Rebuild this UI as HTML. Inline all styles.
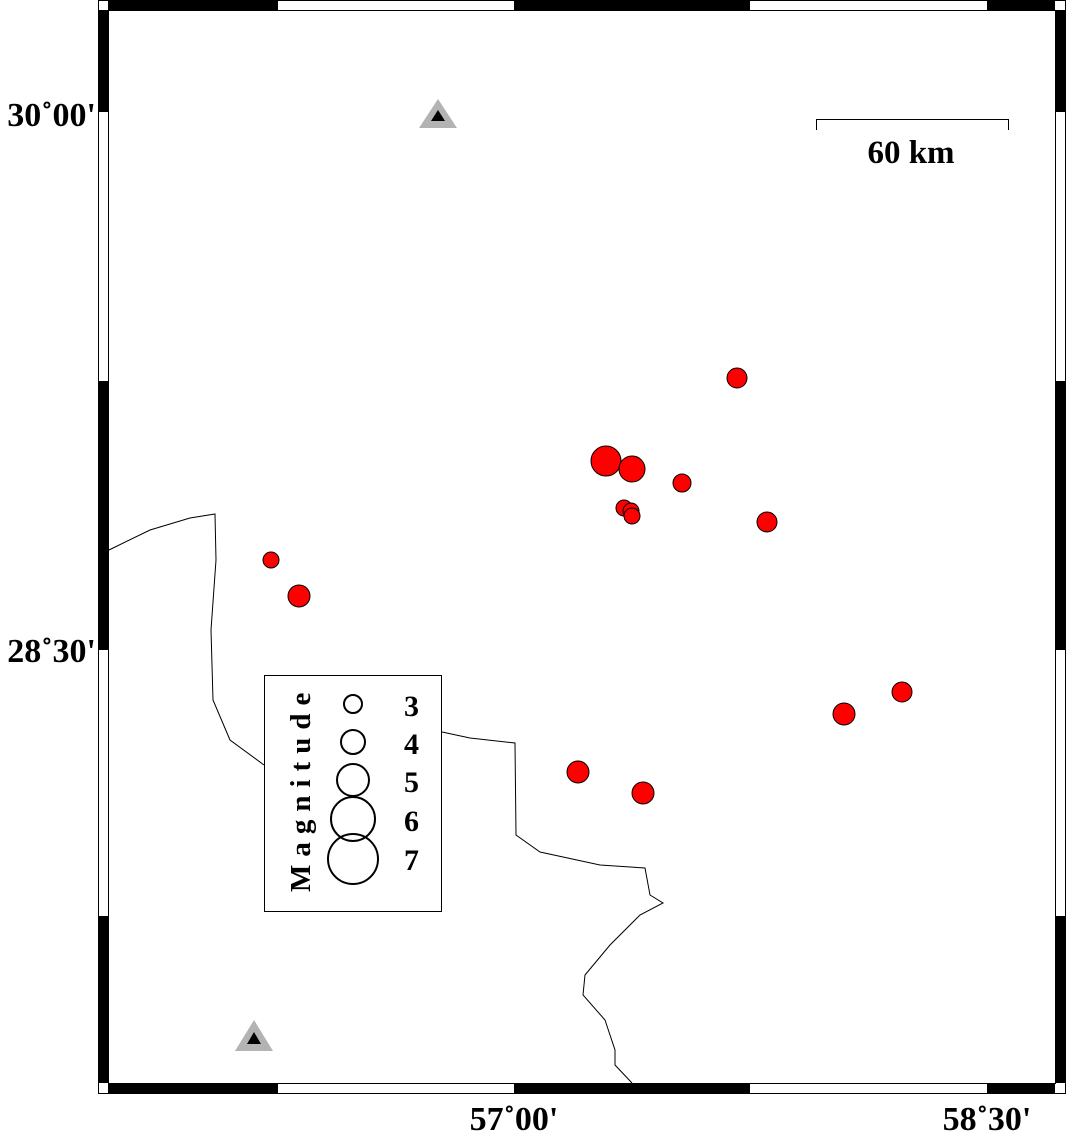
<!DOCTYPE html>
<html><head><style>body{margin:0;background:#fff}svg{display:block}</style></head><body>
<svg width="1066" height="1132" viewBox="0 0 1066 1132" xmlns="http://www.w3.org/2000/svg" font-family="Liberation Serif, serif" font-weight="bold">
<rect x="98.5" y="0.5" width="967" height="1093" fill="#fff" stroke="#000"/>
<g fill="#000">
<rect x="108" y="0" width="170" height="10"/><rect x="514" y="0" width="236" height="10"/><rect x="987" y="0" width="68" height="10"/>
<rect x="108" y="1083" width="170" height="11"/><rect x="514" y="1083" width="236" height="11"/><rect x="987" y="1083" width="68" height="11"/>
<rect x="98" y="10" width="10" height="102"/><rect x="98" y="381" width="10" height="269"/><rect x="98" y="916" width="10" height="167"/>
<rect x="1055" y="10" width="11" height="102"/><rect x="1055" y="381" width="11" height="269"/><rect x="1055" y="916" width="11" height="167"/>
</g>
<rect x="108.5" y="10.5" width="947" height="1073" fill="none" stroke="#000"/>
<path d="M109,550 L150,530 L190,518 L215,514 L216,560 L211,630 L213,700 L230,740 L264,765 M442,732 L470,738 L515,743 L516,835 L540,852 L600,865 L645,868 L650,895 L663,903 L640,915 L610,945 L585,975 L583,995 L605,1020 L615,1050 L615,1065 L632,1083" fill="none" stroke="#000" stroke-width="1"/>
<g fill="#f00" stroke="#000" stroke-width="1">
<circle cx="737" cy="378" r="10"/><circle cx="606" cy="461" r="15"/><circle cx="632" cy="469" r="13"/>
<circle cx="682" cy="483" r="9"/><circle cx="624" cy="508" r="8"/><circle cx="631" cy="511" r="8"/><circle cx="632" cy="516" r="8"/>
<circle cx="767" cy="522" r="10"/><circle cx="271" cy="560" r="8"/><circle cx="299" cy="596" r="11"/>
<circle cx="844" cy="714" r="11"/><circle cx="902" cy="692" r="10"/><circle cx="578" cy="772" r="11"/><circle cx="643" cy="793" r="11"/>
</g>
<polygon points="438,99 457,128 419,128" fill="#b3b3b3"/><polygon points="438,110 445,121 431,121" fill="#000"/>
<polygon points="254,1020 273,1051 235,1051" fill="#b3b3b3"/><polygon points="254,1032 261,1044 247,1044" fill="#000"/>
<path d="M816.5,130 V119.5 H1008.5 V130" fill="none" stroke="#000"/>
<text x="911" y="163" font-size="33" text-anchor="middle">60 km</text>
<rect x="264.5" y="675.5" width="177" height="236" fill="#fff" stroke="#000"/>
<g fill="none" stroke="#000" stroke-width="2">
<circle cx="353" cy="704" r="9"/><circle cx="353" cy="742" r="12"/><circle cx="353" cy="780" r="16"/><circle cx="353" cy="819" r="22"/><circle cx="353" cy="859" r="25"/>
</g>
<g font-size="30"><text x="404" y="716">3</text><text x="404" y="754">4</text><text x="404" y="792">5</text><text x="404" y="831">6</text><text x="404" y="870">7</text></g>
<text transform="translate(310,892) rotate(-90)" font-size="29" letter-spacing="8">Magnitude</text>
<g font-size="34">
<text x="96" y="126" text-anchor="end">30˚00'</text>
<text x="96" y="662" text-anchor="end">28˚30'</text>
<text x="514" y="1130" text-anchor="middle">57˚00'</text>
<text x="987" y="1130" text-anchor="middle">58˚30'</text>
</g>
</svg>
</body></html>
